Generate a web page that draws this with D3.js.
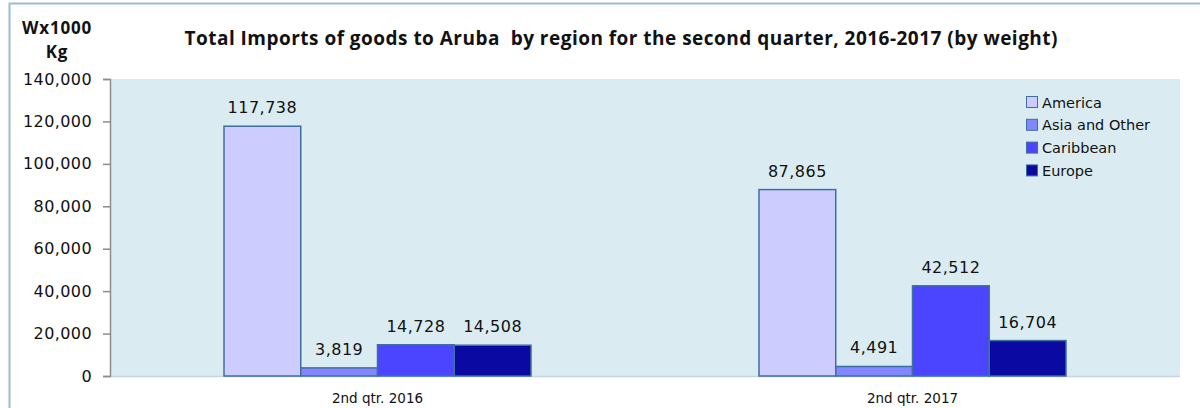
<!DOCTYPE html>
<html>
<head>
<meta charset="utf-8">
<script src="https://cdn.jsdelivr.net/npm/d3@7"></script>
<style>
body { margin:0; background:#fff; }
</style>
</head>
<body>
<svg id="svg"></svg>
<script>
// DATA
var quarters = ["2nd qtr. 2016", "2nd qtr. 2017"];
var regions = ["America", "Asia and Other", "Caribbean", "Europe"];
var america = [117738, 87865];
var asia = [3819, 4491];
var caribbean = [14728, 42512];
var europe = [14508, 16704];
var yTicks = [0, 20000, 40000, 60000, 80000, 100000, 120000, 140000];

var series = [america, asia, caribbean, europe];

var w = 1200, h = 408;
var svg = d3.select("#svg").attr('width', w).attr('height', h);

// note: "top" is taken by window, so plot_* names
var plot_left = 110, plot_right = 1180, plot_top = 79, plot_bottom = 376;
var group_w = 307;

var color = d3.scaleOrdinal()
.domain(regions)
.range(["#ccccff", "#8287ff", "#4b45ff", "#0a0aa3"]);

var x0 = d3.scaleBand().domain(quarters).range([plot_left, plot_right]).paddingInner(0).paddingOuter(0);
var x1 = d3.scaleBand().domain(regions).range([0, group_w]);
var y = d3.scaleLinear().domain([0, 140000]).range([plot_bottom, plot_top]);
var fmt = d3.format(",");

// outer frame
svg.append("rect")
.attr('x', 9.5)
.attr('y', 3.5)
.attr('width', 1300)
.attr('height', 500)
.attr('fill', 'none')
.attr('stroke', '#9dbbd9')
.attr('stroke-width', 2);

// plot area
svg.append("rect")
.attr('x', plot_left)
.attr('y', plot_top)
.attr('width', plot_right - plot_left)
.attr('height', plot_bottom - plot_top)
.attr('fill', '#daecf2');

svg.append("line")
.attr('x1', plot_left).attr('x2', plot_right)
.attr('y1', plot_bottom + 0.5).attr('y2', plot_bottom + 0.5)
.attr('stroke', '#c3d5e6')
.attr('stroke-width', 1.5);

// TITLE
svg.append("text")
.text("Total Imports of goods to Aruba  by region for the second quarter, 2016-2017 (by weight)")
.attr('x', 621)
.attr('y', 45)
.attr('text-anchor', 'middle')
.attr('textLength', 873)
.style('font-family', 'Open Sans')
.style('font-weight', 'bold')
.style('font-size', '19px')
.style('white-space', 'pre')
.attr('fill', '#111');

var ylab = svg.append("text")
.attr('text-anchor', 'middle')
.style('font-family', 'Open Sans')
.style('font-weight', 'bold')
.style('font-size', '17px')
.style('letter-spacing', '0.8px')
.attr('fill', '#111');
ylab.append('tspan').attr('x', 57).attr('y', 34).text("Wx1000");
ylab.append('tspan').attr('x', 57).attr('y', 58).text("Kg");

// Y AXIS
var yAxis = svg.append("g")
.attr("transform", "translate(" + plot_left + ",0)")
.call(d3.axisLeft(y).tickValues(yTicks).tickFormat(fmt).tickSize(7).tickPadding(11));
yAxis.select(".domain").attr('stroke', '#8c8c8c').attr('stroke-width', 1.5);
yAxis.selectAll(".tick line").attr('stroke', '#8c8c8c').attr('stroke-width', 1.5);
yAxis.selectAll(".tick text")
.style('font-family', 'DejaVu Sans')
.style('font-size', '16px')
.style('letter-spacing', '0.4px')
.attr('fill', '#111');

// X LABELS
svg.selectAll(".xlab")
.data(quarters)
.enter().append("text")
.attr('class', 'xlab')
.attr('x', function(d){ return x0(d) + x0.bandwidth() / 2; })
.attr('y', 403)
.attr('text-anchor', 'middle')
.style('font-family', 'DejaVu Sans')
.style('font-size', '13.5px')
.attr('fill', '#111')
.text(function(d){ return d; });

// BARS
var groups = svg.selectAll(".grp")
.data(quarters)
.enter().append("g")
.attr('class', 'grp')
.attr("transform", function(d){ return "translate(" + (x0(d) + (x0.bandwidth() - group_w) / 2) + ",0)"; });

groups.each(function(q, qi) {
  var g = d3.select(this);
  regions.forEach(function(r, ri) {
    var v = series[ri][qi];
    g.append("rect")
    .attr('x', x1(r))
    .attr('y', y(v))
    .attr('width', x1.bandwidth())
    .attr('height', plot_bottom - y(v))
    .attr('fill', color(r))
    .attr('stroke', '#3f6f9f')
    .attr('stroke-width', 1.5);
    g.append("text")
    .attr('x', x1(r) + x1.bandwidth() / 2)
    .attr('y', y(v) - 13)
    .attr('text-anchor', 'middle')
    .style('font-family', 'DejaVu Sans')
    .style('font-size', '16px')
    .style('letter-spacing', '0.5px')
    .attr('fill', '#111')
    .text(fmt(v));
  });
});

// LEGEND
var legend = svg.selectAll(".leg")
.data(regions)
.enter().append("g")
.attr('class', 'leg')
.attr("transform", function(d, i){ return "translate(1026," + (102 + i * 22.8) + ")"; });

legend.append("rect")
.attr('x', 0.5)
.attr('y', -5.5)
.attr('width', 11)
.attr('height', 11)
.attr('fill', function(d){ return color(d); })
.attr('stroke', '#3f6f9f')
.attr('stroke-width', 1);

legend.append("text")
.attr('x', 16)
.attr('y', 5.5)
.style('font-family', 'DejaVu Sans')
.style('font-size', '14.5px')
.attr('fill', '#111')
.text(function(d){ return d; });
</script>
</body>
</html>
